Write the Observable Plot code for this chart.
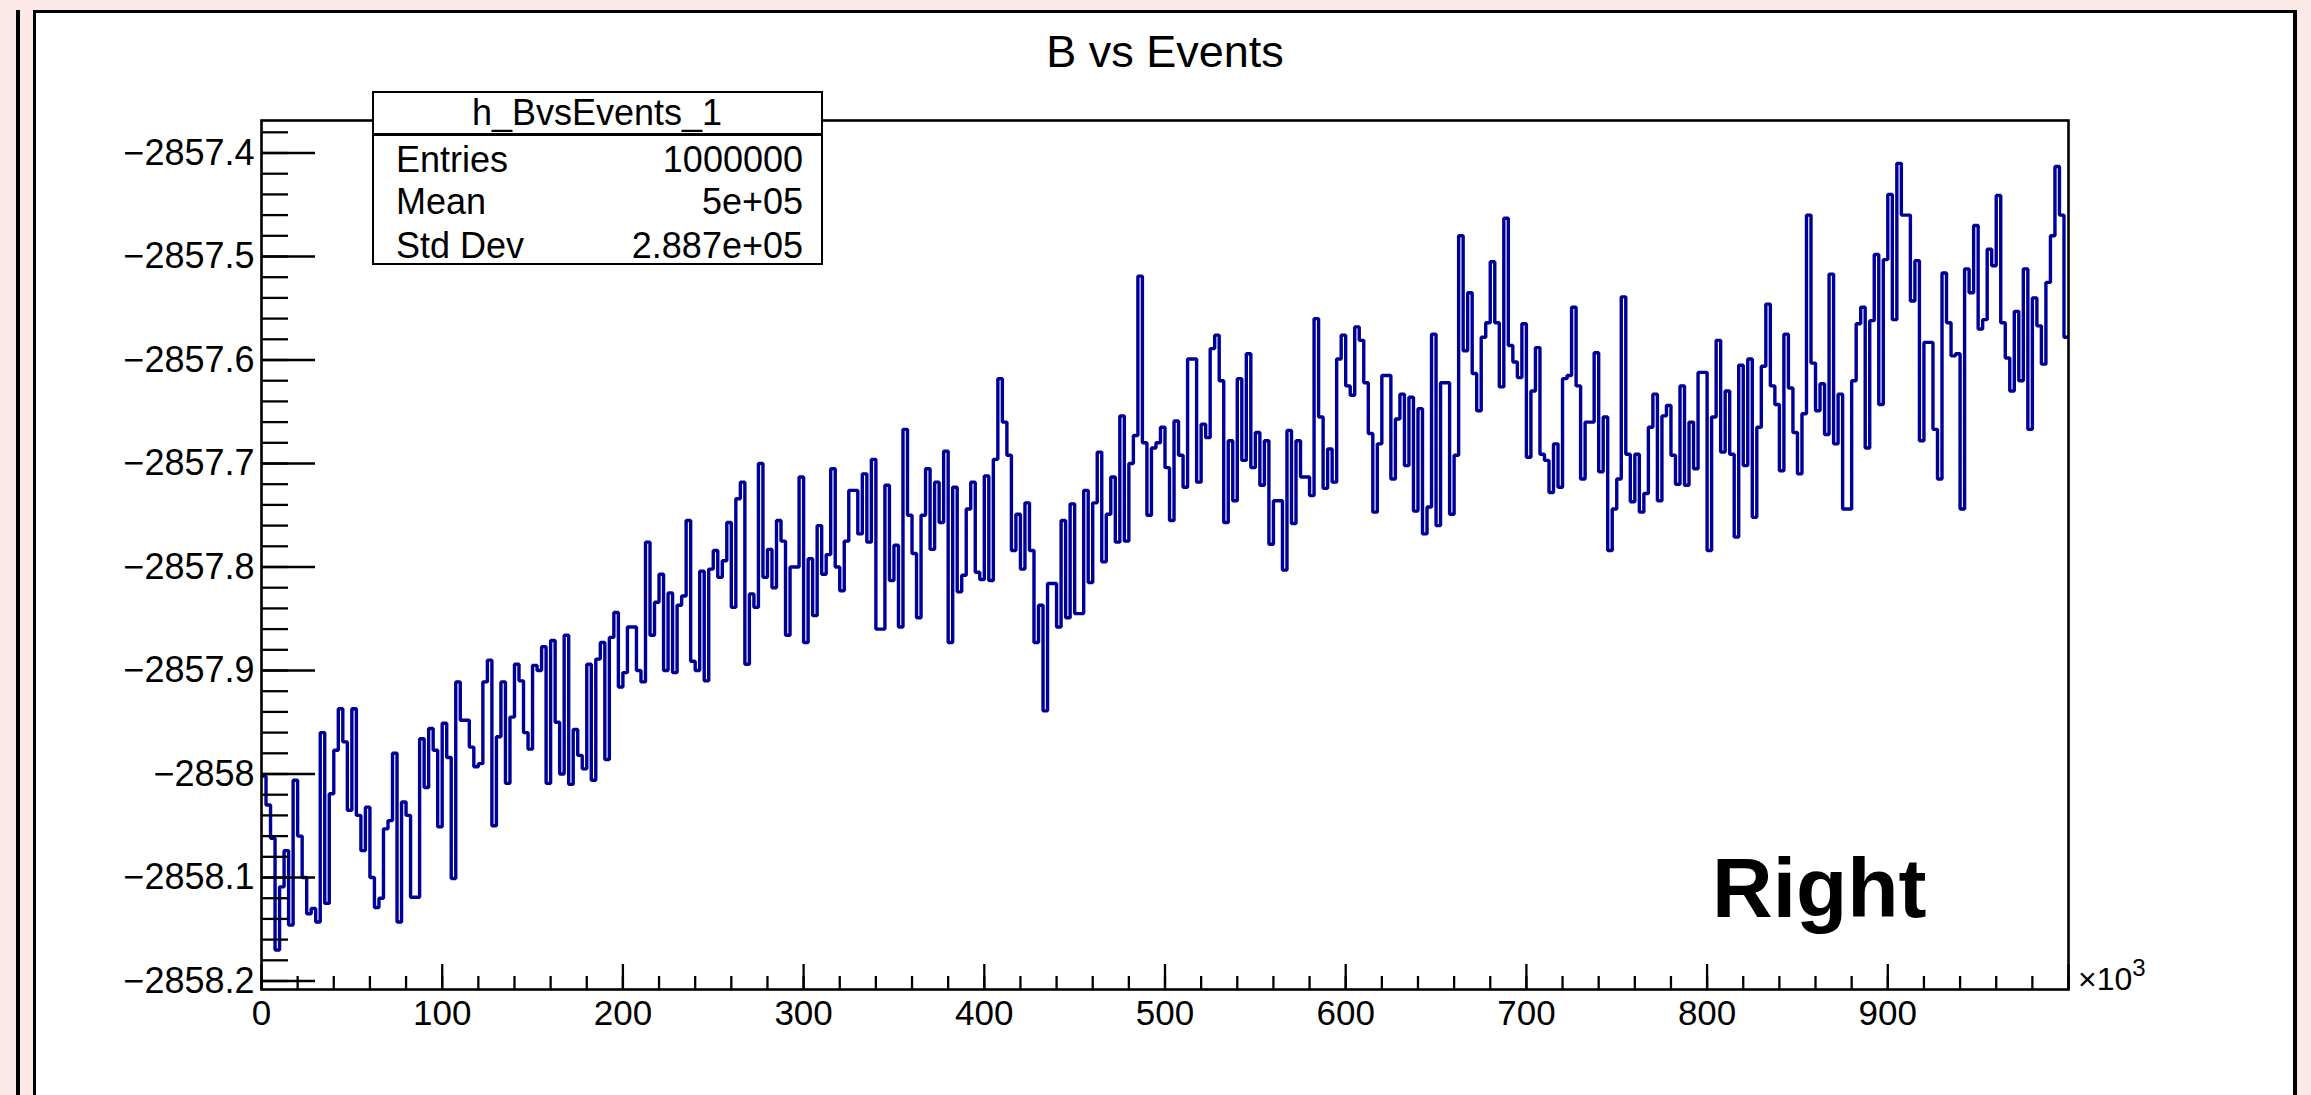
<!DOCTYPE html>
<html>
<head>
<meta charset="utf-8">
<script src="https://cdn.jsdelivr.net/npm/d3@7"></script>
<script src="https://cdn.jsdelivr.net/npm/@observablehq/plot@0.6"></script>
<style>
  html, body { margin: 0; padding: 0; width: 2311px; height: 1095px; overflow: hidden; background: #fde8e8; font-family: "Liberation Sans", Arial, Helvetica, sans-serif; color: #000; }
  #leftline { position: absolute; left: 16px; top: 10px; width: 3.5px; height: 1200px; background: #000; }
  #panel { position: absolute; left: 33px; top: 10px; width: 2264px; height: 1200px; box-sizing: border-box; background: #fff; border: 3px solid #000; border-right-width: 4.5px; }
  #chart { position: absolute; left: 0; top: 0; }
  .t { position: absolute; white-space: nowrap; }
  #stats { position: absolute; left: 372px; top: 91px; width: 451px; height: 174px; box-sizing: border-box; background: #fff; border: 2.5px solid #000; }
  #statsSep { position: absolute; left: 0; top: 40px; width: 100%; height: 2.5px; background: #000; }
</style>
</head>
<body>
<div id="leftline"></div>
<div id="panel"></div>
<div id="chart"></div>
<div id="stats"><div id="statsSep"></div></div>
<div id="overlay"></div>
<script>
// ---------------- data ----------------
const HIST_NAME = "h_BvsEvents_1";
const TITLE = "B vs Events";
const PAD_LABEL = "Right";
const X_MIN = 0;
const X_MAX = 1000000;
const N_BINS = 400;
const STAT_LABELS = ["Entries", "Mean", "Std Dev"];
const STAT_VALUES = ["1000000", "5e+05", "2.887e+05"];

// B (bin content), 400 bins over 0 .. 1e6 events
const B_VALUES = [
-2858.002,-2858.030,-2858.062,-2858.170,-2858.109,-2858.074,-2858.146,-2858.006,-2858.060,-2858.100,
-2858.135,-2858.130,-2858.143,-2857.960,-2858.125,-2858.019,-2857.977,-2857.937,-2857.969,-2858.035,
-2857.937,-2858.040,-2858.074,-2858.032,-2858.100,-2858.129,-2858.120,-2858.053,-2858.045,-2857.980,
-2858.143,-2858.027,-2858.040,-2858.119,-2858.119,-2857.966,-2858.013,-2857.956,-2857.977,-2858.051,
-2857.951,-2857.984,-2858.101,-2857.911,-2857.948,-2857.948,-2857.974,-2857.993,-2857.990,-2857.911,
-2857.890,-2858.050,-2857.964,-2857.911,-2858.009,-2857.945,-2857.894,-2857.910,-2857.960,-2857.976,
-2857.895,-2857.900,-2857.877,-2858.009,-2857.871,-2857.950,
-2858.000,-2857.866,-2858.010,-2857.957,-2857.982,-2857.995,-2857.894,-2858.006,-2857.889,-2857.873,
-2857.986,-2857.868,-2857.844,-2857.916,-2857.902,-2857.858,-2857.858,-2857.900,-2857.911,-2857.776,
-2857.866,-2857.834,-2857.807,-2857.900,-2857.825,-2857.902,-2857.837,-2857.828,-2857.755,-2857.891,
-2857.900,-2857.804,-2857.910,-2857.802,-2857.784,-2857.810,-2857.794,-2857.757,-2857.839,-2857.734,
-2857.718,-2857.894,-2857.826,-2857.839,-2857.700,-2857.810,-2857.783,-2857.820,-2857.755,-2857.775,
-2857.866,-2857.800,-2857.800,-2857.713,-2857.873,-2857.792,-2857.847,-2857.760,-2857.807,-2857.788,
-2857.705,-2857.800,-2857.823,-2857.775,-2857.726,-2857.726,-2857.768,
-2857.710,-2857.776,-2857.696,-2857.860,-2857.860,-2857.721,-2857.813,-2857.779,-2857.858,-2857.667,
-2857.750,-2857.787,-2857.849,-2857.750,-2857.705,-2857.783,-2857.718,-2857.757,-2857.688,-2857.873,
-2857.723,-2857.824,-2857.808,-2857.744,-2857.718,-2857.805,-2857.812,-2857.712,-2857.813,-2857.696,
-2857.618,-2857.660,-2857.692,-2857.784,-2857.749,-2857.802,-2857.738,-2857.784,-2857.873,-2857.837,
-2857.939,-2857.816,-2857.816,-2857.858,-2857.755,-2857.849,-2857.739,-2857.845,-2857.845,-2857.726,
-2857.815,-2857.738,-2857.689,-2857.795,-2857.749,-2857.713,-2857.776,-2857.654,-2857.775,-2857.700,
-2857.673,-2857.519,-2857.680,-2857.750,-2857.685,-2857.680,
-2857.665,-2857.704,-2857.755,-2857.659,-2857.692,-2857.723,-2857.599,-2857.599,-2857.718,-2857.662,
-2857.675,-2857.589,-2857.576,-2857.620,-2857.757,-2857.678,-2857.736,-2857.618,-2857.697,-2857.594,
-2857.704,-2857.670,-2857.721,-2857.678,-2857.778,-2857.736,-2857.736,-2857.803,-2857.668,-2857.758,
-2857.678,-2857.713,-2857.713,-2857.731,-2857.560,-2857.655,-2857.724,-2857.686,-2857.718,-2857.599,
-2857.576,-2857.625,-2857.634,-2857.568,-2857.581,-2857.622,-2857.671,-2857.747,-2857.681,-2857.615,
-2857.615,-2857.715,-2857.657,-2857.633,-2857.702,-2857.636,-2857.746,-2857.647,-2857.768,-2857.742,
-2857.575,-2857.760,-2857.622,-2857.622,-2857.749,-2857.692,-2857.480,
-2857.591,-2857.535,-2857.613,-2857.649,-2857.578,-2857.564,-2857.505,-2857.564,-2857.626,-2857.463,
-2857.586,-2857.602,-2857.617,-2857.565,-2857.694,-2857.630,-2857.588,-2857.691,-2857.697,-2857.728,
-2857.681,-2857.723,-2857.618,-2857.615,-2857.549,-2857.625,-2857.715,-2857.660,-2857.660,-2857.593,
-2857.708,-2857.655,-2857.784,-2857.744,-2857.715,-2857.539,-2857.691,-2857.737,-2857.691,-2857.747,
-2857.729,-2857.665,-2857.633,-2857.736,-2857.654,-2857.644,-2857.692,-2857.720,-2857.625,-2857.721,
-2857.660,-2857.705,-2857.612,-2857.612,-2857.784,-2857.655,-2857.581,-2857.689,-2857.630,-2857.691,
-2857.771,-2857.605,-2857.702,-2857.599,-2857.752,-2857.665,
-2857.606,-2857.546,-2857.625,-2857.643,-2857.707,-2857.575,-2857.627,-2857.670,-2857.710,-2857.652,
-2857.460,-2857.603,-2857.649,-2857.623,-2857.672,-2857.517,-2857.681,-2857.633,-2857.744,-2857.744,
-2857.620,-2857.565,-2857.549,-2857.685,-2857.562,-2857.498,-2857.643,-2857.503,-2857.440,-2857.561,
-2857.410,-2857.460,-2857.460,-2857.543,-2857.504,-2857.678,-2857.583,-2857.583,-2857.667,-2857.715,
-2857.516,-2857.564,-2857.596,-2857.594,-2857.744,-2857.512,-2857.535,-2857.470,-2857.570,-2857.561,
-2857.493,-2857.509,-2857.441,-2857.564,-2857.598,-2857.630,-2857.553,-2857.620,-2857.512,-2857.667,
-2857.540,-2857.567,-2857.604,-2857.525,-2857.480,-2857.413,-2857.460,-2857.578
];

const Y_DOMAIN = [-2858.2082, -2857.3686];
const Y_MAJOR_TICKS = [-2858.2, -2858.1, -2858.0, -2857.9, -2857.8, -2857.7, -2857.6, -2857.5, -2857.4];
const Y_TICK_LABELS = ["\u22122858.2", "\u22122858.1", "\u22122858", "\u22122857.9", "\u22122857.8", "\u22122857.7", "\u22122857.6", "\u22122857.5", "\u22122857.4"];
const X_MAJOR_TICKS = [0, 100000, 200000, 300000, 400000, 500000, 600000, 700000, 800000, 900000, 1000000];
const X_LABEL_TICKS = [0, 100000, 200000, 300000, 400000, 500000, 600000, 700000, 800000, 900000];
const X_TICK_LABELS = ["0", "100", "200", "300", "400", "500", "600", "700", "800", "900"];
const X_EXPONENT = "3";

// ---------------- build ----------------
const binWidth = (X_MAX - X_MIN) / N_BINS;
const steps = B_VALUES.map((b, i) => ({x: X_MIN + i * binWidth, y: b}));
steps.push({x: X_MAX, y: B_VALUES[B_VALUES.length - 1]});

const yMinor = d3.range(0, 42).map(k => +(Y_MAJOR_TICKS[0] + 0.02 * k).toFixed(2));
const xMinor = d3.range(0, 51).map(k => k * 20000);
const yLab = new Map(Y_MAJOR_TICKS.map((t, i) => [t, Y_TICK_LABELS[i]]));
const xLab = new Map(X_LABEL_TICKS.map((t, i) => [t, X_TICK_LABELS[i]]));

const FONT = "'Liberation Sans', Arial, Helvetica, sans-serif";
const chart = Plot.plot({
  width: 2311,
  height: 1095,
  marginLeft: 261,
  marginRight: 243,
  marginTop: 120,
  marginBottom: 106,
  style: {background: "transparent", fontFamily: FONT, color: "#000", overflow: "visible"},
  x: {domain: [X_MIN, X_MAX], axis: null},
  y: {domain: Y_DOMAIN, axis: null},
  marks: [
    Plot.line(steps, {x: "x", y: "y", curve: "step-after", stroke: "#000099", strokeWidth: 3.4, strokeLinejoin: "miter", strokeLinecap: "butt", clip: true}),
    Plot.axisY({anchor: "left", ticks: yMinor, tickSize: -27, fill: "none", stroke: "#000", strokeWidth: 2.3, label: null}),
    Plot.axisY({anchor: "left", ticks: Y_MAJOR_TICKS, tickSize: -54, fill: "none", stroke: "#000", strokeWidth: 2.3, label: null}),
    Plot.axisY({anchor: "left", ticks: Y_MAJOR_TICKS, tickSize: 0, tickPadding: 7, stroke: "none", fill: "#000", fontSize: 36, tickFormat: d => yLab.get(d), label: null}),
    Plot.axisX({anchor: "bottom", ticks: xMinor, tickSize: -13, fill: "none", stroke: "#000", strokeWidth: 2.3, label: null}),
    Plot.axisX({anchor: "bottom", ticks: X_MAJOR_TICKS, tickSize: -25, fill: "none", stroke: "#000", strokeWidth: 2.3, label: null}),
    Plot.axisX({anchor: "bottom", ticks: X_LABEL_TICKS, tickSize: 0, tickPadding: 11, stroke: "none", fill: "#000", fontSize: 35, tickFormat: d => xLab.get(d), label: null}),
    Plot.frame({stroke: "#000", strokeWidth: 2.6})
  ]
});
document.getElementById("chart").appendChild(chart);

// ---------------- text overlays ----------------
const overlay = document.getElementById("overlay");
function addText(str, {x, baseline, size, anchor = "start", weight = "normal", html = false}) {
  const el = document.createElement("div");
  el.className = "t";
  if (html) el.innerHTML = str; else el.textContent = str;
  el.style.fontSize = size + "px";
  el.style.lineHeight = size + "px";
  el.style.fontWeight = weight;
  el.style.top = (baseline - 0.8465 * size) + "px";
  if (anchor === "start") el.style.left = x + "px";
  else if (anchor === "end") { el.style.right = (2311 - x) + "px"; }
  else { el.style.left = x + "px"; el.style.transform = "translateX(-50%)"; }
  overlay.appendChild(el);
  return el;
}
addText(TITLE, {x: 1165, baseline: 67, size: 45, anchor: "middle"});
addText(HIST_NAME, {x: 597, baseline: 125, size: 36, anchor: "middle"});
const rowBase = [172, 214, 258];
STAT_LABELS.forEach((s, i) => {
  addText(s, {x: 396, baseline: rowBase[i], size: 36});
  addText(STAT_VALUES[i], {x: 803, baseline: rowBase[i], size: 36, anchor: "end"});
});
addText(PAD_LABEL, {x: 1712, baseline: 917, size: 84, weight: "bold"});
addText("\u00d710<span style=\"font-size:24px;position:relative;top:-14px\">" + X_EXPONENT + "</span>", {x: 2078, baseline: 990, size: 32, html: true});
</script>
</body>
</html>
